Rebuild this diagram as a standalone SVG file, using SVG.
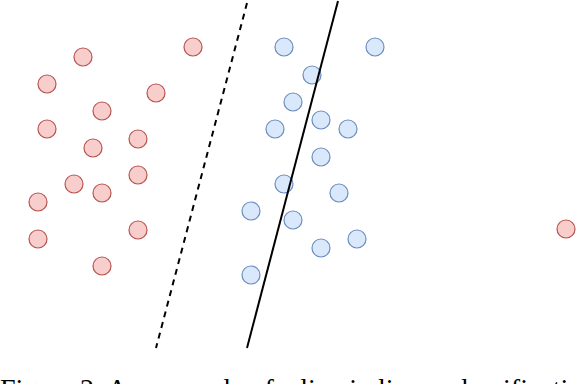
<svg xmlns="http://www.w3.org/2000/svg" width="582" height="384" viewBox="0 0 582 384">
<style>
.red{fill:#f8cecc;stroke:#b85450;stroke-width:1.2}
.blue{fill:#dae8fc;stroke:#6c8ebf;stroke-width:1.2}
.sep{stroke:#000;stroke-width:2;fill:none}
.dash{stroke-dasharray:6 5}
.cap{font-family:"Liberation Serif","Times New Roman",serif;font-size:28px;fill:#000}
</style>
<rect width="582" height="384" fill="#fff"/>
<g id="red-points">
<g id="r1"><circle class="red" cx="83" cy="57" r="9"/></g>
<g id="r2"><circle class="red" cx="193" cy="47" r="9"/></g>
<g id="r3"><circle class="red" cx="47" cy="84" r="9"/></g>
<g id="r4"><circle class="red" cx="156" cy="93" r="9"/></g>
<g id="r5"><circle class="red" cx="102" cy="111" r="9"/></g>
<g id="r6"><circle class="red" cx="47" cy="129" r="9"/></g>
<g id="r7"><circle class="red" cx="138" cy="139" r="9"/></g>
<g id="r8"><circle class="red" cx="93" cy="148" r="9"/></g>
<g id="r9"><circle class="red" cx="138" cy="175" r="9"/></g>
<g id="r10"><circle class="red" cx="74" cy="184" r="9"/></g>
<g id="r11"><circle class="red" cx="102" cy="193" r="9"/></g>
<g id="r12"><circle class="red" cx="38" cy="202" r="9"/></g>
<g id="r13"><circle class="red" cx="38" cy="239" r="9"/></g>
<g id="r14"><circle class="red" cx="138" cy="230" r="9"/></g>
<g id="r15"><circle class="red" cx="102" cy="266" r="9"/></g>
<g id="r16"><circle class="red" cx="566" cy="229" r="9"/></g>
</g>
<g id="blue-points">
<g id="b1"><circle class="blue" cx="284" cy="47" r="9"/></g>
<g id="b2"><circle class="blue" cx="375" cy="47" r="9"/></g>
<g id="b3"><circle class="blue" cx="312" cy="75" r="9"/></g>
<g id="b4"><circle class="blue" cx="293" cy="102" r="9"/></g>
<g id="b5"><circle class="blue" cx="321" cy="120" r="9"/></g>
<g id="b6"><circle class="blue" cx="275" cy="129" r="9"/></g>
<g id="b7"><circle class="blue" cx="348" cy="129" r="9"/></g>
<g id="b8"><circle class="blue" cx="321" cy="157" r="9"/></g>
<g id="b9"><circle class="blue" cx="284" cy="184" r="9"/></g>
<g id="b10"><circle class="blue" cx="339" cy="193" r="9"/></g>
<g id="b11"><circle class="blue" cx="251" cy="211" r="9"/></g>
<g id="b12"><circle class="blue" cx="293" cy="220" r="9"/></g>
<g id="b13"><circle class="blue" cx="357" cy="239" r="9"/></g>
<g id="b14"><circle class="blue" cx="321" cy="248" r="9"/></g>
<g id="b15"><circle class="blue" cx="251" cy="275" r="9"/></g>
</g>
<g id="connectors">
<line id="dashed-boundary" class="sep dash" x1="247" y1="3" x2="156" y2="348"/>
<line id="solid-boundary" class="sep" x1="338" y1="1" x2="247" y2="348"/>
</g>
<text class="cap" x="0" y="398">Figure 2: An example of a line in linear classification</text>
</svg>
